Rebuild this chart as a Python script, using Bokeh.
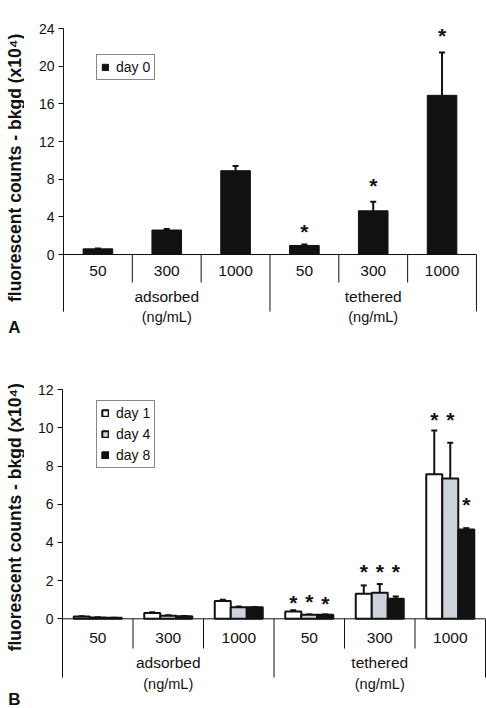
import numpy as np
from bokeh.plotting import figure
from bokeh.models import (ColumnDataSource, Range1d, FixedTicker, Whisker, TeeHead,
                          Legend, LegendItem)
from bokeh.layouts import column, row
from bokeh.embed import file_html
from bokeh.resources import INLINE
from bokeh.core.properties import value

# ---------------- data ----------------
concentrations = ["50", "300", "1000", "50", "300", "1000"]
groups = ["adsorbed", "tethered"]
group_unit = "(ng/mL)"
y_title = "fluorescent counts - bkgd (x10\u2074)"

# Panel A (day 0)
a_series = ["day 0"]
a_mean = [0.6, 2.6, 8.9, 0.96, 4.64, 16.9]
a_sd = [0.05, 0.1, 0.5, 0.1, 0.96, 4.55]
a_ticks = [0, 4, 8, 12, 16, 20, 24]
a_star_cat = [3, 4, 5]
a_star_y = [2.65, 7.54, 23.47]

# Panel B (day 1, 4, 8)
b_series = ["day 1", "day 4", "day 8"]
b_day1 = [0.12, 0.31, 0.93, 0.38, 1.31, 7.58]
b_day1_sd = [0.02, 0.03, 0.07, 0.07, 0.44, 2.29]
b_day4 = [0.07, 0.16, 0.60, 0.21, 1.36, 7.35]
b_day4_sd = [0.01, 0.02, 0.04, 0.02, 0.46, 1.87]
b_day8 = [0.05, 0.14, 0.60, 0.21, 1.05, 4.68]
b_day8_sd = [0.01, 0.01, 0.02, 0.02, 0.12, 0.07]
b_ticks = [0, 2, 4, 6, 8, 10, 12]
b_star_cat = [3, 3, 3, 4, 4, 4, 5, 5, 5]
b_star_series = [0, 1, 2, 0, 1, 2, 0, 1, 2]
b_star_y = [0.96, 1.02, 0.90, 2.57, 2.57, 2.57, 10.56, 10.56, 6.11]

FONT = "Liberation Sans"
INK = "#111111"
SIDE_W = 24


class Geo:
    """pixel -> data helpers for a panel laid out on the page"""
    def __init__(self, fig_top, W, H, bl, bt, x_end, y_lo, y_hi):
        self.fig_top, self.W, self.H, self.bl, self.bt = fig_top, W, H, bl, bt
        self.x_end, self.y_lo, self.y_hi = x_end, y_lo, y_hi
        self.fl = SIDE_W + bl
        self.ft = fig_top + bt
        self.ppx = (W - bl) / x_end
        self.ppy = (H - bt) / (y_hi - y_lo)

    def dx(self, px):
        return (px - self.fl) / self.ppx

    def dy(self, py):
        return self.y_hi - (py - self.ft) / self.ppy


def side_panel(g, letter, letter_pos, title_center_py):
    s = figure(width=SIDE_W, height=g.H, output_backend="svg", toolbar_location=None,
               x_range=Range1d(0, SIDE_W),
               y_range=Range1d(g.fig_top + g.H, g.fig_top),
               x_axis_location=None, y_axis_location=None,
               min_border_left=0, min_border_right=0,
               min_border_top=0, min_border_bottom=0)
    s.outline_line_color = None
    s.xgrid.visible = False
    s.ygrid.visible = False
    s.text(x=[14.5], y=[title_center_py], text=[y_title], angle=np.pi / 2,
           text_align="center", text_baseline="middle", text_font=value(FONT),
           text_font_style="bold", text_font_size="17.5px", text_color=INK)
    s.text(x=[letter_pos[0]], y=[letter_pos[1]], text=[letter],
           text_align="center", text_baseline="middle", text_font=value(FONT),
           text_font_style="bold", text_font_size="17px", text_color=INK)
    return s


def base_panel(g, ticks, top_val, inner_px, group_px, cat_px, grp_px, unit_px):
    p = figure(width=g.W, height=g.H, output_backend="svg", toolbar_location=None,
               x_range=Range1d(0, g.x_end), y_range=Range1d(g.y_lo, g.y_hi),
               x_axis_location=None, min_border_left=g.bl, min_border_right=0,
               min_border_top=g.bt, min_border_bottom=0)
    p.outline_line_color = None
    p.xgrid.visible = False
    p.ygrid.visible = False

    ax = p.yaxis[0]
    ax.ticker = FixedTicker(ticks=ticks)
    ax.bounds = (g.dy(group_px), top_val)
    ax.axis_line_color = INK
    ax.axis_line_width = 1
    ax.major_tick_line_color = INK
    ax.major_tick_out = 5
    ax.major_tick_in = 0
    ax.minor_tick_out = 0
    ax.minor_tick_in = 0
    ax.major_label_standoff = 4
    ax.major_label_text_font = FONT
    ax.major_label_text_font_size = "14px"
    ax.major_label_text_color = INK

    n = len(concentrations)
    p.segment(x0=[0], y0=[0], x1=[n], y1=[0], line_color=INK, line_width=1)
    xs = list(range(n + 1))
    ends = [g.dy(group_px) if i % 3 == 0 else g.dy(inner_px) for i in xs]
    p.segment(x0=xs, y0=[0] * len(xs), x1=xs, y1=ends, line_color=INK, line_width=1)

    cat_src = ColumnDataSource(dict(x=[i + 0.5 for i in range(n)],
                                    y=[g.dy(cat_px)] * n, t=concentrations))
    p.text(x="x", y="y", text="t", source=cat_src, text_align="center",
           text_baseline="middle", text_font=value(FONT), text_font_size="15.5px",
           text_color=INK)
    grp_src = ColumnDataSource(dict(x=[1.5, 4.5], y=[g.dy(grp_px)] * 2, t=groups))
    p.text(x="x", y="y", text="t", source=grp_src, text_align="center",
           text_baseline="middle", text_font=value(FONT), text_font_size="15.5px",
           text_color=INK)
    unit_src = ColumnDataSource(dict(x=[1.5, 4.5], y=[g.dy(unit_px)] * 2,
                                     t=[group_unit] * 2))
    p.text(x="x", y="y", text="t", source=unit_src, text_align="center",
           text_baseline="middle", text_font=value(FONT), text_font_size="14.5px",
           text_color=INK)
    return p


def style_legend(leg, x, y, spacing):
    leg.location = (x, y)
    leg.margin = 0
    leg.padding = 4
    leg.spacing = spacing
    leg.glyph_width = 8
    leg.glyph_height = 8
    leg.label_standoff = 7
    leg.label_height = 15
    leg.label_text_font = FONT
    leg.label_text_font_size = "14px"
    leg.label_text_color = INK
    leg.border_line_color = INK
    leg.border_line_width = 1.5
    leg.background_fill_color = "white"
    leg.background_fill_alpha = 1


# ---------------- Panel A ----------------
gA = Geo(fig_top=0, W=486 - SIDE_W, H=338, bl=39, bt=28, x_end=6.146, y_lo=-8.92, y_hi=24)
pA = base_panel(gA, a_ticks, 24, inner_px=282, group_px=311, cat_px=270, grp_px=296,
                unit_px=316)
sA = side_panel(gA, "A", (14, 325.5), 152)

xa = [i + 0.5 for i in range(len(a_mean))]
srcA = ColumnDataSource(dict(x=xa, top=a_mean,
                             err=[m + s for m, s in zip(a_mean, a_sd)]))
pA.add_layout(Whisker(source=srcA, base="x", lower="top", upper="err",
                      dimension="height", line_color=INK, line_width=2,
                      upper_head=TeeHead(size=6, line_color=INK, line_width=2),
                      lower_head=None))
rA = pA.vbar(x="x", top="top", bottom=0, width=0.43, source=srcA,
             fill_color=INK, line_color=INK, line_width=1)
starA = ColumnDataSource(dict(x=[c + 0.5 for c in a_star_cat],
                              y=a_star_y, t=["*"] * len(a_star_y)))
pA.text(x="x", y="y", text="t", source=starA, text_align="center",
        text_baseline="middle", y_offset=2, text_font=value(FONT),
        text_font_size="21px", text_font_style="bold", text_color=INK)
legA = Legend(items=[LegendItem(label=a_series[0], renderers=[rA])])
style_legend(legA, 33, 338 - 80, 6)
pA.add_layout(legA)

# ---------------- Panel B ----------------
gB = Geo(fig_top=338, W=486 - SIDE_W, H=370, bl=38, bt=7, x_end=6.014, y_lo=-4.70, y_hi=14.32)
pB = base_panel(gB, b_ticks, 12, inner_px=648, group_px=677, cat_px=637, grp_px=662,
                unit_px=683)
sB = side_panel(gB, "B", (14, 699), 513)

bw = 0.227
offsets = [-bw, 0.0, bw]
b_means = [b_day1, b_day4, b_day8]
b_sds = [b_day1_sd, b_day4_sd, b_day8_sd]
b_fill = ["white", "#cdd3da", INK]
renderers = []
for k in range(3):
    xs = [i + 0.5 + offsets[k] for i in range(len(concentrations))]
    src = ColumnDataSource(dict(x=xs, top=b_means[k],
                                err=[m + s for m, s in zip(b_means[k], b_sds[k])]))
    pB.add_layout(Whisker(source=src, base="x", lower="top", upper="err",
                          dimension="height", line_color=INK, line_width=2,
                          upper_head=TeeHead(size=6, line_color=INK, line_width=2),
                          lower_head=None))
    r = pB.vbar(x="x", top="top", bottom=0, width=bw, source=src,
                fill_color=b_fill[k], line_color=INK, line_width=2)
    renderers.append(r)

starB = ColumnDataSource(dict(
    x=[b_star_cat[i] + 0.5 + offsets[b_star_series[i]] for i in range(len(b_star_y))],
    y=b_star_y, t=["*"] * len(b_star_y)))
pB.text(x="x", y="y", text="t", source=starB, text_align="center",
        text_baseline="middle", y_offset=2, text_font=value(FONT),
        text_font_size="21px", text_font_style="bold", text_color=INK)
legB = Legend(items=[LegendItem(label=b_series[k], renderers=[renderers[k]])
                     for k in range(3)])
style_legend(legB, 34, 708 - 468, 5)
pB.add_layout(legB)

layout = column(row(sA, pA, spacing=0), row(sB, pB, spacing=0), spacing=0)
open("out.html", "w").write(file_html(layout, INLINE))
